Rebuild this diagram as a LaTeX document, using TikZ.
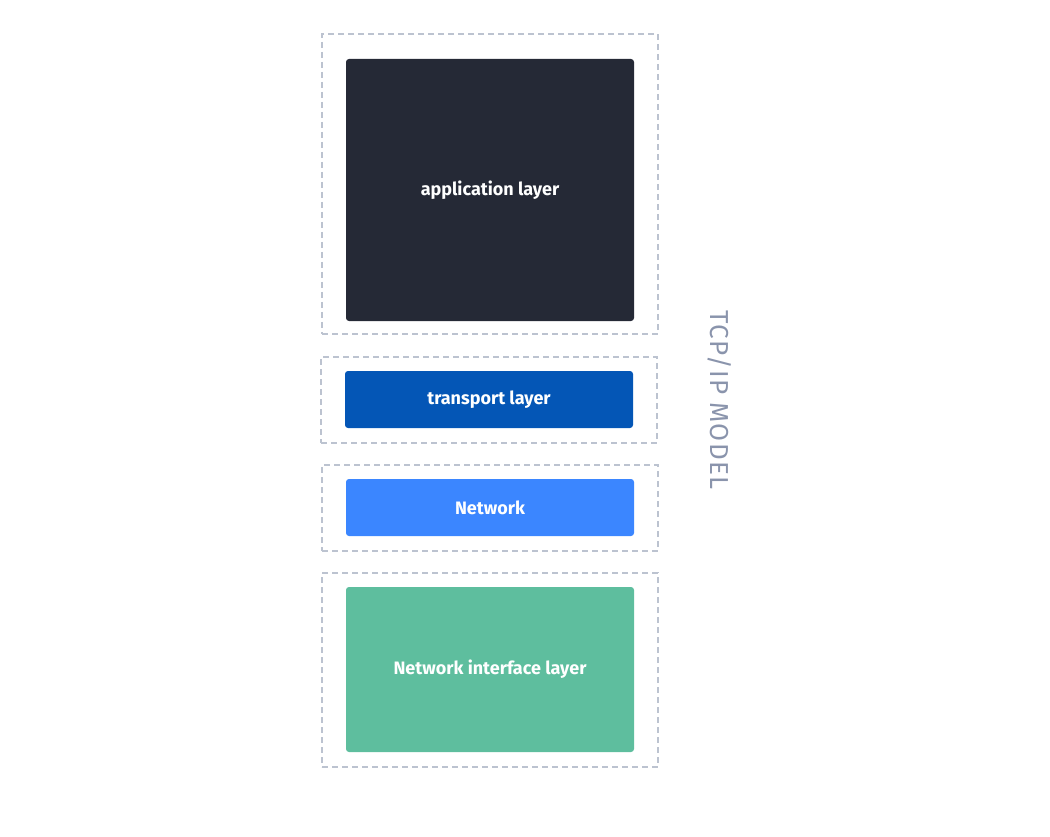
\documentclass[tikz,border=0pt]{standalone}
\usepackage{fontspec}
\setmainfont{Fira Sans}
\definecolor{appcol}{HTML}{252936}
\definecolor{transcol}{HTML}{0456B6}
\definecolor{netcol}{HTML}{3B86FF}
\definecolor{nifcol}{HTML}{5EBE9E}
\definecolor{framecol}{HTML}{BCC3D0}
\definecolor{labelcol}{HTML}{8A94AC}
\begin{document}
\begin{tikzpicture}[x=1pt,y=-1pt,
    frame/.style={draw=framecol,line width=1.5pt,dash pattern=on 6pt off 4pt,minimum width=336pt,inner sep=0pt},
    layer/.style={rounded corners=3pt,minimum width=288pt,inner sep=0pt,text=white,font=\fontsize{18}{21}\selectfont\bfseries}]
    \useasboundingbox (0,0) rectangle (1050,837);
    \node[frame,minimum height=300pt] (f1) at (490,184) {};
    \node[frame,minimum height=86pt] (f2) at (489,400) {};
    \node[frame,minimum height=86pt] (f3) at (490,508) {};
    \node[frame,minimum height=194pt] (f4) at (490,670) {};
    \node[layer,fill=appcol,minimum height=262pt] (app) at (490,190) {application layer};
    \node[layer,fill=transcol,minimum height=57pt] (trans) at (489,399.5) {transport layer};
    \node[layer,fill=netcol,minimum height=57pt] (net) at (490,507.5) {Network};
    \node[layer,fill=nifcol,minimum height=165pt] (nif) at (490,669.5) {Network interface layer};
    \node[rotate=-90,text=labelcol,font=\fontsize{26}{30}\selectfont\addfontfeature{LetterSpace=5}] (model) at (720,400) {TCP/IP MODEL};
\end{tikzpicture}
\end{document}
